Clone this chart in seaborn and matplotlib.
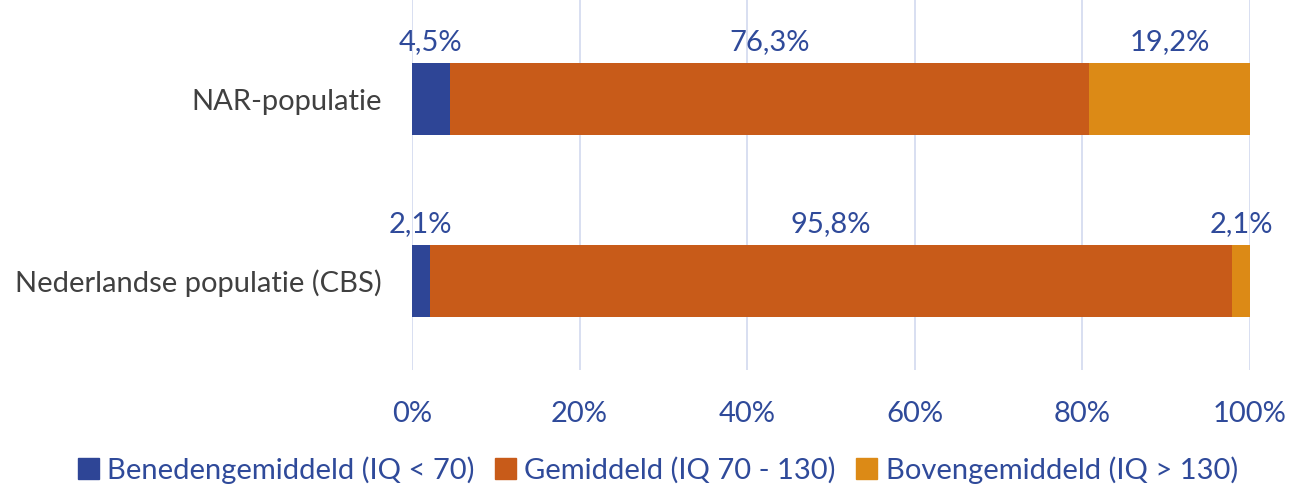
import pandas as pd
import matplotlib.pyplot as plt
import seaborn as sns

groups = ["NAR-populatie", "Nederlandse populatie (CBS)"]
beneden = [4.5, 2.1]
gemiddeld = [76.3, 95.8]
boven = [19.2, 2.1]
series_names = ["Benedengemiddeld (IQ < 70)", "Gemiddeld (IQ 70 - 130)", "Bovengemiddeld (IQ > 130)"]
colors = ["#2E4596", "#C85B19", "#DC8A16"]
x_ticks = [0, 20, 40, 60, 80, 100]

label_color = "#2F4A9A"

sns.set_style("white")
plt.rcParams["font.family"] = ["Lato", "DejaVu Sans"]

df = pd.DataFrame({"group": groups, "beneden": beneden,
                   "gemiddeld": gemiddeld, "boven": boven})
df["c1"] = df["beneden"]
df["c2"] = df["beneden"] + df["gemiddeld"]
df["c3"] = df["c2"] + df["boven"]

fig = plt.figure(figsize=(13.03, 4.91), dpi=100)
ax = fig.add_axes([0.3162, 0.2464, 0.6431, 0.7536])

# stacked bars: draw cumulative totals from largest to smallest
for col, color in zip(["c3", "c2", "c1"], colors[::-1]):
    sns.barplot(data=df, x=col, y="group", color=color, orient="h",
                width=0.4, linewidth=0, saturation=1, ax=ax, zorder=3)

ax.set_xlim(0, 100)
ax.set_ylim(1.489, -0.544)
ax.set_xticks(x_ticks)
ax.set_xticklabels([f"{t}%" for t in x_ticks])
ax.tick_params(axis="x", colors=label_color, labelsize=21, length=0, pad=22)
ax.tick_params(axis="y", colors="#404040", labelsize=21, length=0, pad=22)
ax.set_xlabel("")
ax.set_ylabel("")
ax.grid(axis="x", color="#D6DCF0", linewidth=1.3, zorder=0)
ax.grid(axis="y", visible=False)
for s in ax.spines.values():
    s.set_visible(False)

# data labels above each segment
for i in range(len(groups)):
    starts = [0, df["c1"][i], df["c2"][i]]
    vals = [beneden[i], gemiddeld[i], boven[i]]
    for st, v in zip(starts, vals):
        ax.text(st + v / 2, i - 0.24, f"{v:.1f}%".replace(".", ","),
                ha="center", va="bottom", fontsize=21, color=label_color)

handles = [plt.Rectangle((0, 0), 1, 1, color=c) for c in colors]
leg = fig.legend(handles, series_names, loc="center", bbox_to_anchor=(0.505, 0.043),
                 ncol=3, frameon=False, fontsize=21, handlelength=0.7,
                 handleheight=0.7, handletextpad=0.3, columnspacing=0.7)
for t in leg.get_texts():
    t.set_color(label_color)

fig.savefig("out.png", dpi=100)
